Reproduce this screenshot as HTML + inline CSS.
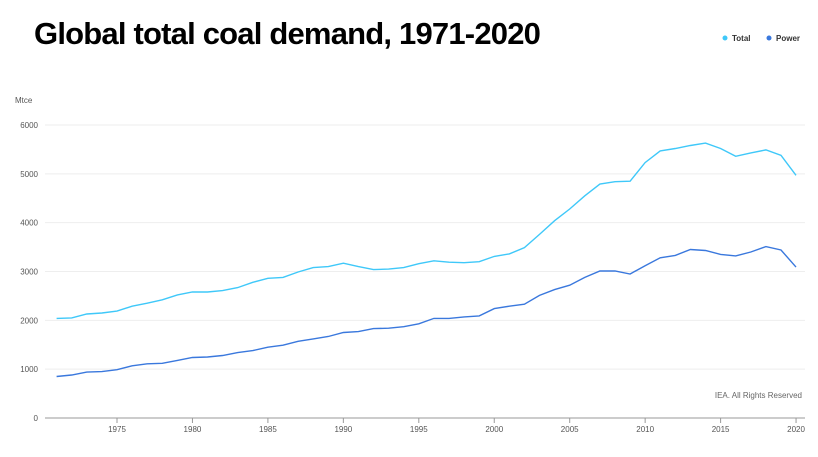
<!DOCTYPE html>
<html><head><meta charset="utf-8"><style>
body{margin:0;width:818px;height:452px;background:#fff;overflow:hidden;font-family:"Liberation Sans",sans-serif}
</style></head><body>
<svg width="818" height="452" xmlns="http://www.w3.org/2000/svg" font-family="Liberation Sans, sans-serif">
<text x="34" y="44" font-size="31" font-weight="bold" fill="#000" letter-spacing="-0.8">Global total coal demand, 1971-2020</text>
<circle cx="725" cy="38" r="2.5" fill="#3fc8f9"/><text x="732" y="41" font-size="8" font-weight="bold" fill="#333">Total</text>
<circle cx="769" cy="38" r="2.5" fill="#3a78dd"/><text x="776" y="41" font-size="8" font-weight="bold" fill="#333">Power</text>
<text x="15" y="103" font-size="8" fill="#555">Mtce</text>
<g id="grid" stroke="#eee" stroke-width="1"></g>
<g id="yl" font-size="8" fill="#555" text-anchor="end"></g>
<line x1="45" y1="418" x2="805" y2="418" stroke="#999"/>
<g id="xt" font-size="8" fill="#555" text-anchor="middle"></g>
<polyline id="tot" fill="none" stroke="#3fc8f9" stroke-width="1.4"/>
<polyline id="pow" fill="none" stroke="#3a78dd" stroke-width="1.4"/>
<text x="802" y="398" font-size="8" fill="#666" text-anchor="end">IEA. All Rights Reserved</text>
</svg>
<script>
var T=[2040,2050,2130,2150,2190,2290,2350,2420,2520,2580,2580,2610,2670,2780,2860,2880,2990,3080,3100,3170,3100,3040,3050,3080,3160,3220,3190,3180,3200,3310,3360,3490,3760,4040,4280,4550,4790,4840,4850,5230,5470,5520,5580,5630,5520,5360,5430,5490,5380,4970];
var P=[850,880,940,950,990,1070,1110,1120,1180,1240,1250,1280,1340,1380,1450,1490,1570,1620,1670,1750,1770,1830,1840,1870,1930,2040,2040,2070,2090,2240,2290,2330,2510,2630,2720,2880,3010,3010,2950,3120,3280,3330,3450,3430,3350,3320,3400,3510,3440,3090];
function X(y){return 117+(y-1975)*15.09}function Y(v){return 418-v*0.04883}
function pts(a){return a.map(function(v,i){return X(1971+i).toFixed(1)+","+Y(v).toFixed(1)}).join(" ")}
document.getElementById('tot').setAttribute('points',pts(T));
document.getElementById('pow').setAttribute('points',pts(P));
var ns="http://www.w3.org/2000/svg",g=document.getElementById('grid'),yl=document.getElementById('yl'),xt=document.getElementById('xt');
for(var v=0;v<=6000;v+=1000){var y=Y(v);if(v>0){var l=document.createElementNS(ns,'line');l.setAttribute('x1',45);l.setAttribute('x2',805);l.setAttribute('y1',y);l.setAttribute('y2',y);g.appendChild(l);}
var t=document.createElementNS(ns,'text');t.setAttribute('x',38);t.setAttribute('y',y+3);t.textContent=v;yl.appendChild(t);}
for(var yr=1975;yr<=2020;yr+=5){var x=X(yr);var l=document.createElementNS(ns,'line');l.setAttribute('x1',x);l.setAttribute('x2',x);l.setAttribute('y1',418);l.setAttribute('y2',423);l.setAttribute('stroke','#999');xt.appendChild(l);
var t=document.createElementNS(ns,'text');t.setAttribute('x',x);t.setAttribute('y',432);t.textContent=yr;xt.appendChild(t);}
</script>
</body></html>
